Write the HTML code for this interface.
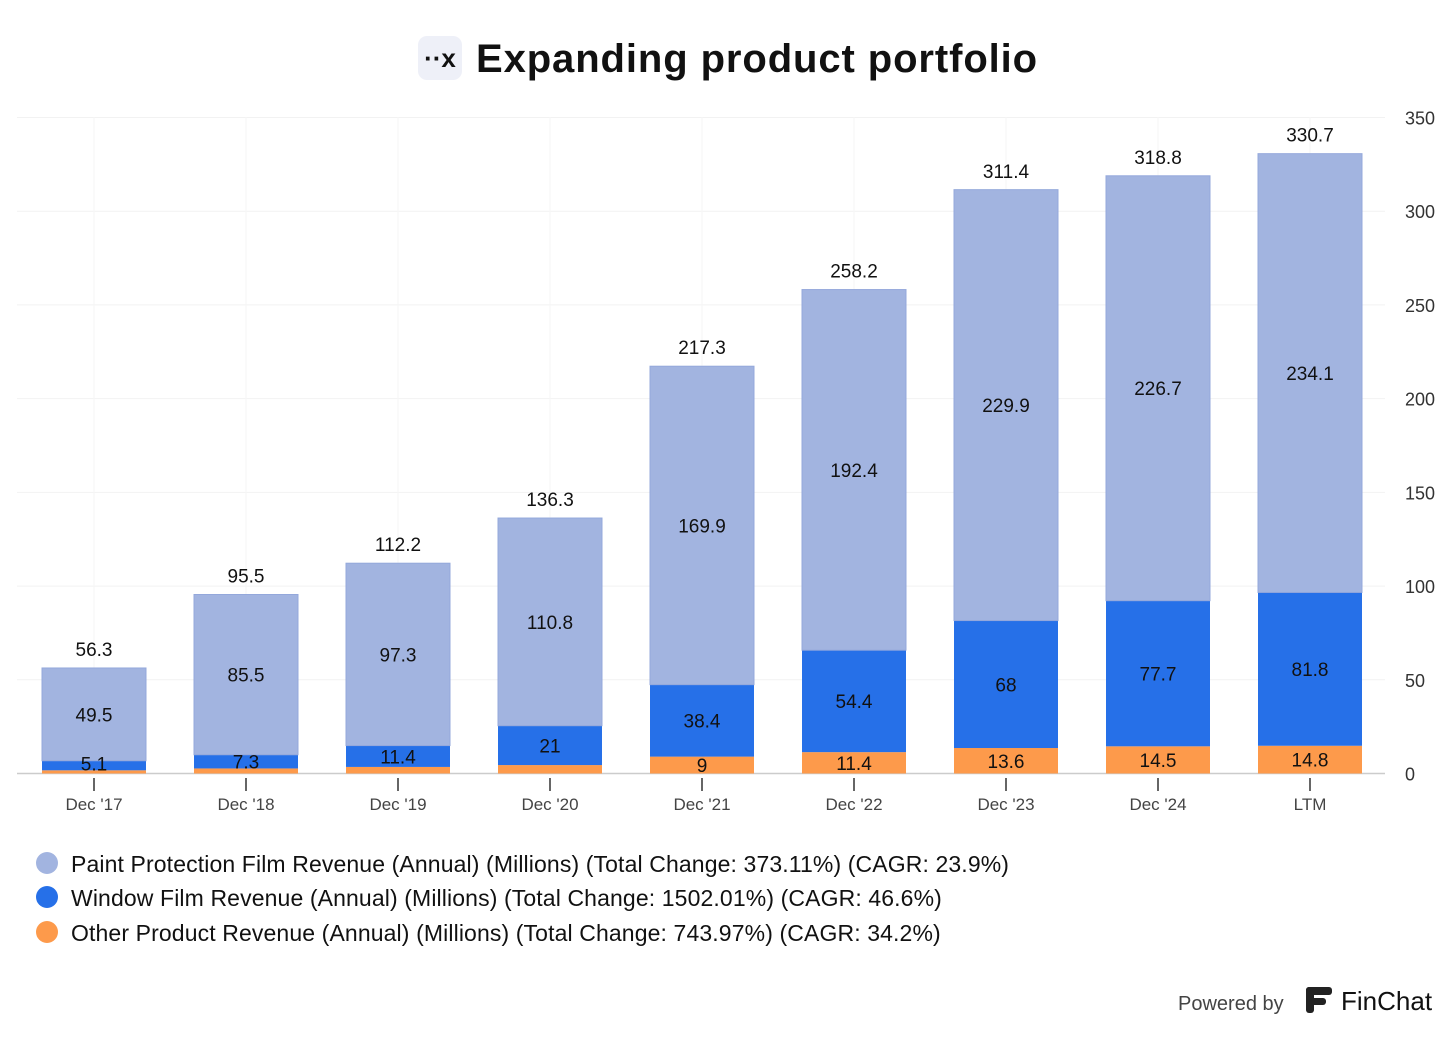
<!DOCTYPE html>
<html><head><meta charset="utf-8">
<style>
body{margin:0;background:#fff;width:1456px;height:1032px;overflow:hidden;font-family:"Liberation Sans",sans-serif;}
svg text{font-family:"Liberation Sans",sans-serif;}
</style></head>
<body>
<svg id="chart" width="1456" height="1032" xmlns="http://www.w3.org/2000/svg">
  <g>
    <rect x="418" y="36" width="44" height="44" rx="9" fill="#eef0f8"/>
    <text x="440" y="67" font-size="26" font-weight="bold" text-anchor="middle" fill="#111">··x</text>
    <text x="476" y="72" font-size="40" font-weight="bold" letter-spacing="0.9" fill="#111">Expanding product portfolio</text>
  </g>
  <g id="grid"></g>
  <g id="bars"></g>
  <g id="legend">
    <circle cx="47" cy="863" r="11" fill="#a2b4e0"/>
    <text x="71" y="872" font-size="23" letter-spacing="0.12" fill="#111">Paint Protection Film Revenue (Annual) (Millions) (Total Change: 373.11%) (CAGR: 23.9%)</text>
    <circle cx="47" cy="897" r="11" fill="#2670e8"/>
    <text x="71" y="906" font-size="23" letter-spacing="0.12" fill="#111">Window Film Revenue (Annual) (Millions) (Total Change: 1502.01%) (CAGR: 46.6%)</text>
    <circle cx="47" cy="932" r="11" fill="#fd9a4b"/>
    <text x="71" y="941" font-size="23" letter-spacing="0.12" fill="#111">Other Product Revenue (Annual) (Millions) (Total Change: 743.97%) (CAGR: 34.2%)</text>
  </g>
  <g>
    <text x="1178" y="1010" font-size="20" fill="#444">Powered by</text>
    <g>
      <rect x="1306" y="987" width="26" height="8" rx="3" fill="#222"/>
      <rect x="1306" y="998" width="20" height="7" rx="3" fill="#222"/>
      <rect x="1306" y="987" width="8" height="26" rx="3" fill="#222"/>
    </g>
    <text x="1341" y="1010" font-size="26" fill="#111">FinChat</text>
  </g>
</svg>
<script>
const categories=["Dec '17","Dec '18","Dec '19","Dec '20","Dec '21","Dec '22","Dec '23","Dec '24","LTM"];
const otherVals=[1.7,2.7,3.5,4.5,9,11.4,13.6,14.5,14.8];
const windowVals=[5.1,7.3,11.4,21,38.4,54.4,68,77.7,81.8];
const ppfVals=[49.5,85.5,97.3,110.8,169.9,192.4,229.9,226.7,234.1];
const totals=[56.3,95.5,112.2,136.3,217.3,258.2,311.4,318.8,330.7];
const yTicks=[0,50,100,150,200,250,300,350];

const NS="http://www.w3.org/2000/svg";
const y0=773.5, pxPer=656/350;
const y=v=>y0-v*pxPer;
const x=i=>94+i*152;
const bw=104;
function mk(tag,attrs,parent,txt){const e=document.createElementNS(NS,tag);for(const k in attrs)e.setAttribute(k,attrs[k]);if(txt!==undefined)e.textContent=txt;parent.appendChild(e);return e;}
const grid=document.getElementById('grid'), bars=document.getElementById('bars');
yTicks.forEach(t=>{
  if(t>0){const l=mk('line',{x1:17,x2:1385,y1:y(t),y2:y(t),stroke:'#f2f2f2','stroke-width':1},grid);
  
  }
  const tx=mk('text',{x:1405,y:y(t)+7,'font-size':18,fill:'#333'},grid,String(t));
  
  
});
categories.forEach((c,i)=>{
  const vl=mk('line',{x1:x(i),x2:x(i),y1:117,y2:773,stroke:'#f6f6f6','stroke-width':1},grid);
  
  
});
const ax=mk('line',{x1:17,x2:1385,y1:y0,y2:y0,stroke:'#ccc','stroke-width':1.5},grid);


categories.forEach((c,i)=>{
  const cx=x(i), L=cx-bw/2;
  const o=otherVals[i], w=windowVals[i], p=ppfVals[i];
  const r1=mk('rect',{x:L,y:y(o),width:bw,height:o*pxPer,fill:'#fd9a4b'},bars);
  
  
  const r2=mk('rect',{x:L,y:y(o+w),width:bw,height:w*pxPer,fill:'#2670e8'},bars);
  
  
  const r3=mk('rect',{x:L,y:y(o+w+p),width:bw,height:p*pxPer,fill:'#a2b4e0',stroke:'#94a8db','stroke-width':1},bars);
  
  
  const t1=mk('text',{x:cx,y:y(o+w+p/2)+7,'font-size':19,fill:'#111','text-anchor':'middle'},bars,String(p));
  
  
  const t2=mk('text',{x:cx,y:Math.min(y(o+w/2)+7,y0-3),'font-size':19,fill:'#111','text-anchor':'middle'},bars,String(w));
  
  
  if(o>=9){const t3=mk('text',{x:cx,y:y(o/2)+7,'font-size':19,fill:'#111','text-anchor':'middle'},bars,String(o));
  
  }
  const tt=mk('text',{x:cx,y:y(totals[i])-12,'font-size':19,fill:'#111','text-anchor':'middle'},bars,String(totals[i]));
  
  
  const tk=mk('line',{x1:cx,x2:cx,y1:778,y2:791,stroke:'#333','stroke-width':1.5},bars);
  
  
  const xl=mk('text',{x:cx,y:810,'font-size':17,fill:'#444','text-anchor':'middle'},bars,c);
  
  
});
</script>
</body></html>
